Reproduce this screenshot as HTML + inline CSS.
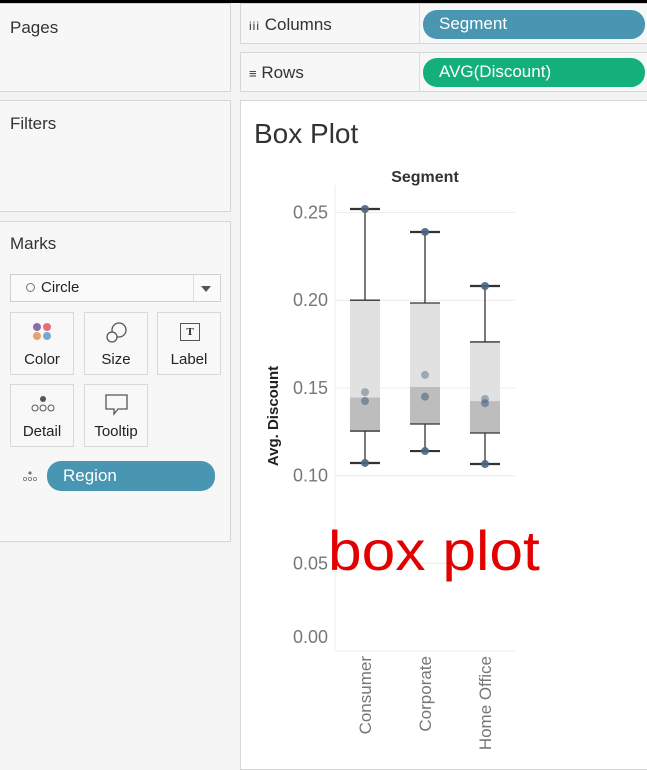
<!DOCTYPE html>
<html><head><meta charset="utf-8">
<style>
body{margin:0;width:647px;height:767px;overflow:hidden;background:#f3f3f3;font-family:"Liberation Sans",sans-serif;position:relative}
.card{position:absolute;background:#f7f7f7;border:1px solid #d6d6d6;box-sizing:border-box}
.ttl{position:absolute;font-size:17px;color:#333}
.pill{position:absolute;border-radius:14px;color:#fff;font-size:17px;box-sizing:border-box;padding-left:16px;line-height:28px}
.btn{position:absolute;width:64px;height:63px;border:1px solid #d8d8d8;box-sizing:border-box;background:#f8f8f8;font-size:15px;color:#222;text-align:center}
.btn span{position:absolute;left:0;right:0;bottom:6px}
</style></head><body>
<div style="position:absolute;left:0;top:0;width:647px;height:3px;background:#000"></div>
<div class="card" style="left:-1px;top:3px;width:232px;height:89px"><div class="ttl" style="left:10px;top:14px">Pages</div></div>
<div class="card" style="left:-1px;top:100px;width:232px;height:112px"><div class="ttl" style="left:10px;top:13px">Filters</div></div>
<div class="card" style="left:-1px;top:221px;width:232px;height:321px">
 <div class="ttl" style="left:10px;top:12px">Marks</div>
 <div style="position:absolute;left:10px;top:52px;width:211px;height:28px;border:1px solid #d0d0d0;box-sizing:border-box;background:#fafafa;font-size:15px;color:#222;line-height:26px">
  <span style="display:inline-block;width:7px;height:7px;border:1px solid #777;border-radius:50%;margin:0 6px 0 15px"></span>Circle
  <div style="position:absolute;right:0;top:0;width:26px;height:26px;border-left:1px solid #ddd"><div style="position:absolute;left:7px;top:11px;border-left:5px solid transparent;border-right:5px solid transparent;border-top:6px solid #555"></div></div>
 </div>
 <div class="btn" style="left:10px;top:90px">
  <svg width="24" height="22" style="position:absolute;left:20px;top:8px"><circle cx="6" cy="6" r="4" fill="#8a6fa6"/><circle cx="16" cy="6" r="4" fill="#e36e79"/><circle cx="6" cy="15" r="4" fill="#e8a06c"/><circle cx="16" cy="15" r="4" fill="#7ea6cc"/></svg><span>Color</span></div>
 <div class="btn" style="left:84px;top:90px">
  <svg width="26" height="24" style="position:absolute;left:19px;top:8px"><circle cx="15" cy="9" r="7" fill="none" stroke="#555" stroke-width="1.3"/><circle cx="8" cy="16" r="5" fill="#f8f8f8" stroke="#555" stroke-width="1.3"/></svg><span>Size</span></div>
 <div class="btn" style="left:157px;top:90px">
  <div style="position:absolute;left:22px;top:10px;width:18px;height:16px;border:1px solid #555;font:bold 11px 'Liberation Serif',serif;line-height:16px">T</div><span>Label</span></div>
 <div class="btn" style="left:10px;top:162px">
  <svg width="26" height="18" style="position:absolute;left:19px;top:10px"><circle cx="13" cy="4" r="3" fill="#555"/><circle cx="5" cy="13" r="3" fill="none" stroke="#555"/><circle cx="13" cy="13" r="3" fill="none" stroke="#555"/><circle cx="21" cy="13" r="3" fill="none" stroke="#555"/></svg><span>Detail</span></div>
 <div class="btn" style="left:84px;top:162px">
  <svg width="26" height="24" style="position:absolute;left:19px;top:8px"><path d="M2 2H23V16H14L10 21V16H2Z" fill="none" stroke="#555" stroke-width="1.3"/></svg><span>Tooltip</span></div>
 <svg width="16" height="12" style="position:absolute;left:22px;top:249px"><circle cx="8" cy="2" r="1.6" fill="#777"/><circle cx="3" cy="8" r="1.6" fill="none" stroke="#777" stroke-width=".8"/><circle cx="8" cy="8" r="1.6" fill="none" stroke="#777" stroke-width=".8"/><circle cx="13" cy="8" r="1.6" fill="none" stroke="#777" stroke-width=".8"/></svg>
 <div class="pill" style="left:47px;top:239px;width:168px;height:30px;background:#4996b2;line-height:30px">Region</div>
</div>
<div class="card" style="left:240px;top:3px;width:410px;height:41px;background:#f7f7f7">
 <div class="ttl" style="left:8px;top:11px"><span style="font-size:12px;letter-spacing:1px">iii</span> Columns</div>
 <div style="position:absolute;left:178px;top:0;width:1px;height:40px;background:#ddd"></div>
 <div class="pill" style="left:182px;top:6px;width:222px;height:29px;background:#4996b2">Segment</div>
</div>
<div class="card" style="left:240px;top:52px;width:410px;height:40px;background:#f7f7f7">
 <div class="ttl" style="left:8px;top:10px"><span style="font-size:13px">&#8801;</span> Rows</div>
 <div style="position:absolute;left:178px;top:0;width:1px;height:39px;background:#ddd"></div>
 <div class="pill" style="left:182px;top:5px;width:222px;height:29px;background:#13b07c">AVG(Discount)</div>
</div>
<div style="position:absolute;left:240px;top:100px;width:410px;height:670px;background:#fff;border:1px solid #d6d6d6;box-sizing:border-box"></div>
<div style="position:absolute;left:254px;top:118px;font-size:28px;color:#333">Box Plot</div>
<svg id="chart" width="647" height="767" style="position:absolute;left:0;top:0"></svg>
<div style="position:absolute;left:328px;top:516px;font-size:56px;color:#e20000;line-height:70px;transform:scaleX(1.08);transform-origin:left">box plot</div>
<script>
const categories=["Consumer","Corporate","Home Office"];
const mins=[0.1072,0.1140,0.1066];
const q1s=[0.1254,0.1294,0.1243];
const medians=[0.1445,0.1505,0.1425];
const q3s=[0.2000,0.1984,0.1762];
const maxs=[0.2520,0.2389,0.2081];
const regionPoints=[[0.2520,0.1072,0.1476,0.1425],[0.2389,0.1140,0.1574,0.1450],[0.2081,0.1066,0.1437,0.1413]];
const yTicks=[0,0.05,0.10,0.15,0.20,0.25];
const yTickLabels=["0.00","0.05","0.10","0.15","0.20","0.25"];
const svg=document.getElementById('chart');const NS='http://www.w3.org/2000/svg';
const y=v=>651-v*1754;
const x=i=>365+i*60;
function mk(t,a,p){const e=document.createElementNS(NS,t);for(const k in a)e.setAttribute(k,a[k]);(p||svg).appendChild(e);return e;}
yTicks.forEach((t,i)=>{
 const g=mk('line',{x1:335,x2:515,y1:y(t),y2:y(t),stroke:'#ececec'});
 
 
 let ly=y(t)+6; if(t===0) ly=y(t)-8;
 const l=mk('text',{x:328,y:ly,'text-anchor':'end','font-size':18,fill:'#777','font-family':'Liberation Sans, sans-serif'});
 l.textContent=yTickLabels[i];
 
 
});
const ax=mk('line',{x1:335,x2:335,y1:185,y2:651,stroke:'#eee'});


const hdr=mk('text',{x:425,y:182,'text-anchor':'middle','font-size':16,'font-weight':'bold',fill:'#333','font-family':'Liberation Sans, sans-serif'});hdr.textContent='Segment';


const yt=mk('text',{transform:'translate(278,416) rotate(-90)','text-anchor':'middle','font-size':15,'font-weight':'bold',fill:'#222','font-family':'Liberation Sans, sans-serif'});yt.textContent='Avg. Discount';


categories.forEach((c,i)=>{
 const cx=x(i),w=30;
 const up=mk('rect',{x:cx-w/2,y:y(q3s[i]),width:w,height:y(medians[i])-y(q3s[i]),fill:'#e1e1e1'});
 
 
 const lo=mk('rect',{x:cx-w/2,y:y(medians[i]),width:w,height:y(q1s[i])-y(medians[i]),fill:'#bdbdbd'});
 
 
 mk('line',{x1:cx-w/2,x2:cx+w/2,y1:y(q3s[i]),y2:y(q3s[i]),stroke:'#333','stroke-width':1.3});
 mk('line',{x1:cx-w/2,x2:cx+w/2,y1:y(q1s[i]),y2:y(q1s[i]),stroke:'#333','stroke-width':1.3});
 mk('line',{x1:cx,x2:cx,y1:y(maxs[i]),y2:y(q3s[i]),stroke:'#333','stroke-width':1.3});
 mk('line',{x1:cx,x2:cx,y1:y(q1s[i]),y2:y(mins[i]),stroke:'#333','stroke-width':1.3});
 const wt=mk('line',{x1:cx-15,x2:cx+15,y1:y(maxs[i]),y2:y(maxs[i]),stroke:'#333','stroke-width':2.2});
 
 
 const wb=mk('line',{x1:cx-15,x2:cx+15,y1:y(mins[i]),y2:y(mins[i]),stroke:'#333','stroke-width':2.2});
 
 
 regionPoints[i].forEach((v,j)=>{
  const inBox=v>q1s[i]&&v<q3s[i];
  const op=inBox?(j===2?0.45:0.6):0.9;
  const p=mk('circle',{cx:cx,cy:y(v),r:4,fill:'#4a6581','fill-opacity':op});
  
  
 });
 const t=mk('text',{transform:'translate('+(cx+6)+',656) rotate(-90)','text-anchor':'end','font-size':17,fill:'#777','font-family':'Liberation Sans, sans-serif'});
 t.textContent=c;
 
 
});
</script>
</body></html>
